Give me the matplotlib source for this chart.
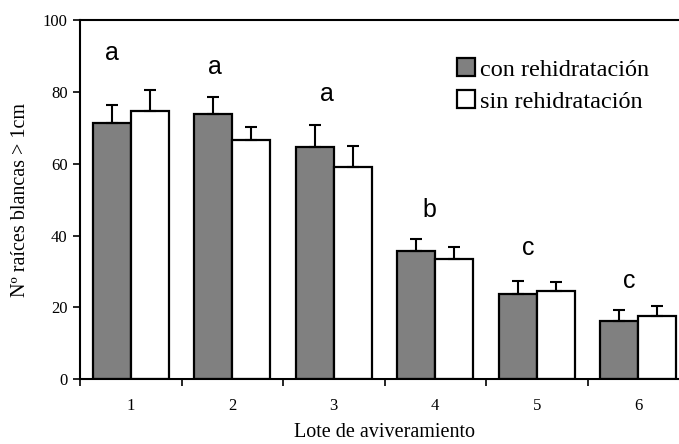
import numpy as np
import matplotlib
matplotlib.use("Agg")
import matplotlib.pyplot as plt

lotes = ["1", "2", "3", "4", "5", "6"]
con_rehid = [71.3, 74.0, 64.7, 35.7, 23.8, 16.3]
con_err = [5.2, 4.7, 6.1, 3.3, 3.5, 2.8]
sin_rehid = [74.7, 66.5, 59.2, 33.5, 24.6, 17.6]
sin_err = [5.9, 3.7, 5.7, 3.3, 2.4, 2.8]
letras = ["a", "a", "a", "b", "c", "c"]
letras_y = [90.8, 87.1, 79.4, 47.1, 36.4, 27.3]

plt.rcParams["font.family"] = ["Liberation Serif", "DejaVu Serif"]

fig = plt.figure(figsize=(6.79, 4.44), dpi=100)
# axes extends past the right edge of the figure (cropped like the original)
ax = fig.add_axes([80 / 679, 65 / 444, 609 / 679, 358.7 / 444])

x = np.arange(len(lotes))
w = 0.372
ekw = dict(ecolor="black", elinewidth=1.5, capsize=4.5, capthick=1.5)
ax.bar(x - w / 2, con_rehid, w, color="#808080", edgecolor="black", linewidth=1.6,
       yerr=[np.zeros(6), con_err], error_kw=ekw, label="con rehidratación", zorder=2)
ax.bar(x + w / 2, sin_rehid, w, color="white", edgecolor="black", linewidth=1.6,
       yerr=[np.zeros(6), sin_err], error_kw=ekw, label="sin rehidratación", zorder=2)

dx = [-0.19, -0.17, -0.07, -0.06, -0.08, -0.09]
for i, (t, yy) in enumerate(zip(letras, letras_y)):
    ax.text(x[i] + dx[i], yy, t, family="Liberation Sans", fontsize=18,
            ha="center", va="center")

ax.set_xlim(-0.5, 5.5)
ax.set_ylim(0, 100)
ax.set_yticks(range(0, 101, 20))
ax.set_xticks(np.arange(-0.5, 6, 1))
ax.set_xticklabels([])
ax.set_xticks(x, minor=True)
ax.set_xticklabels(lotes, minor=True)
ax.tick_params(axis="x", which="major", length=5, width=1.2, direction="out")
ax.tick_params(axis="x", which="minor", length=0, pad=14, labelsize=12)
ax.tick_params(axis="y", length=5, width=1.2, direction="out", pad=4, labelsize=12)
for s in ax.spines.values():
    s.set_linewidth(1.5)

ax.set_ylabel("Nº raíces blancas > 1cm", fontsize=14.5)
ax.yaxis.set_label_coords(-50 / 609, 0.5)
ax.set_xlabel("Lote de aviveramiento", fontsize=14.5)
ax.xaxis.set_label_coords((384.5 - 80) / 609, -44 / 358.7)

leg = ax.legend(loc="upper left", bbox_to_anchor=(445 / 679, 1 - 46 / 444),
                bbox_transform=fig.transFigure, frameon=False, fontsize=17.5,
                handlelength=0.75, handleheight=0.75, handletextpad=0.2,
                labelspacing=0.4, borderpad=0)

fig.savefig("out.png", dpi=100)
